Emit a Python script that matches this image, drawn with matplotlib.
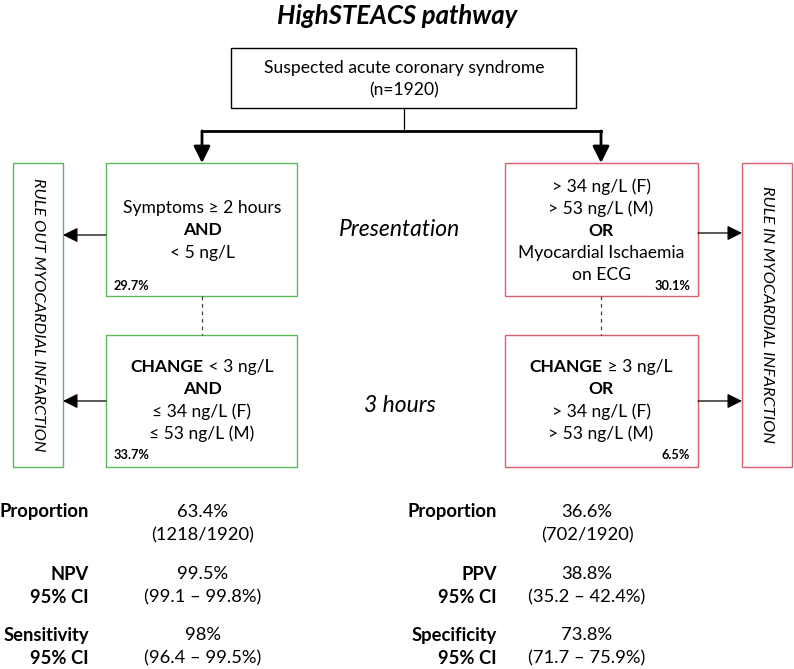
import matplotlib.pyplot as plt
from matplotlib.patches import Rectangle

# HighSTEACS pathway flow diagram, drawn in pixel coordinates

title = "HighSTEACS pathway"
top_lines = ["Suspected acute coronary syndrome", "(n=1920)"]
timepoints = ["Presentation", "3 hours"]

# box contents: list of (bold part, regular part) per line
out_pres = [("", "Symptoms \u2265 2 hours"), ("AND", ""), ("", "< 5 ng/L")]
out_3h = [("CHANGE", " < 3 ng/L"), ("AND", ""), ("", "\u2264 34 ng/L (F)"), ("", "\u2264 53 ng/L (M)")]
in_pres = [("", "> 34 ng/L (F)"), ("", "> 53 ng/L (M)"), ("OR", ""),
           ("", "Myocardial Ischaemia"), ("", "on ECG")]
in_3h = [("CHANGE", " \u2265 3 ng/L"), ("OR", ""), ("", "> 34 ng/L (F)"), ("", "> 53 ng/L (M)")]
box_pct = ["29.7%", "33.7%", "30.1%", "6.5%"]
side_labels = ["RULE OUT MYOCARDIAL INFARCTION", "RULE IN MYOCARDIAL INFARCTION"]

left_labels = [["Proportion"], ["NPV", "95% CI"], ["Sensitivity", "95% CI"]]
left_values = [["63.4%", "(1218/1920)"], ["99.5%", "(99.1 \u2013 99.8%)"], ["98%", "(96.4 \u2013 99.5%)"]]
right_labels = [["Proportion"], ["PPV", "95% CI"], ["Specificity", "95% CI"]]
right_values = [["36.6%", "(702/1920)"], ["38.8%", "(35.2 \u2013 42.4%)"], ["73.8%", "(71.7 \u2013 75.9%)"]]

GREEN = "#5cb85c"
RED = "#d9606b"
FONT = ["Lato", "DejaVu Sans"]
FS = 12.6
FS_STATS = 13.2

W, H = 794, 669
fig = plt.figure(figsize=(W / 100, H / 100), dpi=100)
ax = fig.add_axes([0, 0, 1, 1])
ax.set_xlim(0, W)
ax.set_ylim(H, 0)
ax.axis("off")
renderer = fig.canvas.get_renderer()


def box(x0, y0, x1, y1, color, lw=1.0):
    ax.add_patch(Rectangle((x0, y0), x1 - x0, y1 - y0, fill=False,
                           edgecolor=color, linewidth=lw))


def arrow(x0, y0, x1, y1, lw=0.9, hw=0.45, hl=0.9):
    ax.annotate("", xy=(x1, y1), xytext=(x0, y0),
                arrowprops=dict(arrowstyle=f"-|>,head_width={hw},head_length={hl}",
                                color="black", lw=lw, shrinkA=0, shrinkB=0))


def mixed_line(cx, y, bold, reg, fs=FS):
    # center a line made of a bold part followed by a regular part
    tb = ax.text(0, y, bold, fontsize=fs, fontweight="bold", family=FONT, va="center")
    tr = ax.text(0, y, reg, fontsize=fs, family=FONT, va="center")
    inv = ax.transData.inverted()
    def width(t):
        if not t.get_text():
            return 0
        bb = t.get_window_extent(renderer)
        return inv.transform((bb.x1, 0))[0] - inv.transform((bb.x0, 0))[0]
    wb, wr = width(tb), width(tr)
    x0 = cx - (wb + wr) / 2
    tb.set_x(x0)
    tr.set_x(x0 + wb)


def box_text(cx, y_first, lines, step=22.3):
    for i, (b, r) in enumerate(lines):
        mixed_line(cx, y_first + i * step, b, r)


# title
ax.text(W / 2, 16, title, fontsize=18.5, fontweight="bold", style="italic",
        family=FONT, ha="center", va="center")

# top box
box(231, 48, 576, 108, "black", lw=1.0)
ax.text(404, 68, top_lines[0], fontsize=FS, family=FONT, ha="center", va="center")
ax.text(404, 90, top_lines[1], fontsize=FS, family=FONT, ha="center", va="center")

# bracket with arrows
ax.plot([404, 404], [108, 131], color="black", lw=0.9)
ax.plot([202, 601], [131, 131], color="black", lw=2.0, solid_capstyle="projecting")
arrow(202, 131, 202, 163, lw=2.0, hw=0.5, hl=1.0)
arrow(601, 131, 601, 163, lw=2.0, hw=0.5, hl=1.0)

# rule out / rule in side boxes
box(13, 163, 63, 467, GREEN)
box(742, 163, 792, 467, RED)
ax.text(38, 315, side_labels[0], fontsize=11.8, style="italic", family=FONT,
        rotation=-90, ha="center", va="center")
ax.text(767, 315, side_labels[1], fontsize=11.8, style="italic", family=FONT,
        rotation=-90, ha="center", va="center")

# pathway boxes
box(106, 163, 297, 296, GREEN)
box(106, 335, 297, 467, GREEN)
box(505, 163, 698, 296, RED)
box(505, 335, 698, 467, RED)

box_text(202, 208, out_pres)
box_text(202, 367, out_3h)
box_text(601, 187, in_pres, step=22)
box_text(601, 367, in_3h)

PFS = 9.2
ax.text(114, 286, box_pct[0], fontsize=PFS, fontweight="bold", family=FONT, va="center")
ax.text(114, 455, box_pct[1], fontsize=PFS, fontweight="bold", family=FONT, va="center")
ax.text(690, 286, box_pct[2], fontsize=PFS, fontweight="bold", family=FONT, va="center", ha="right")
ax.text(690, 455, box_pct[3], fontsize=PFS, fontweight="bold", family=FONT, va="center", ha="right")

# dashed connectors
ax.plot([202, 202], [296, 335], color="#444444", lw=0.9, ls=(0, (3, 3)))
ax.plot([601, 601], [296, 335], color="#444444", lw=0.9, ls=(0, (3, 3)))

# arrows to side boxes
arrow(106, 235, 63, 235)
arrow(106, 401, 63, 401)
arrow(698, 233, 742, 233)
arrow(698, 401, 742, 401)

# time point labels
ax.text(400, 230, timepoints[0], fontsize=16.5, style="italic", family=FONT, ha="center", va="center")
ax.text(400, 406, timepoints[1], fontsize=16.5, style="italic", family=FONT, ha="center", va="center")

# summary statistics, first line of each row at these heights
rows_y = [512, 574, 635]
step = 23.5
for i, y in enumerate(rows_y):
    for j, s in enumerate(left_labels[i]):
        ax.text(89, y + j * step, s, fontsize=FS_STATS, fontweight="bold", family=FONT,
                ha="right", va="center")
    for j, s in enumerate(left_values[i]):
        ax.text(203, y + j * step, s, fontsize=FS_STATS, family=FONT, ha="center", va="center")
    for j, s in enumerate(right_labels[i]):
        ax.text(497, y + j * step, s, fontsize=FS_STATS, fontweight="bold", family=FONT,
                ha="right", va="center")
    for j, s in enumerate(right_values[i]):
        ax.text(587, y + j * step, s, fontsize=FS_STATS, family=FONT, ha="center", va="center")

fig.savefig("out.png", dpi=100)
